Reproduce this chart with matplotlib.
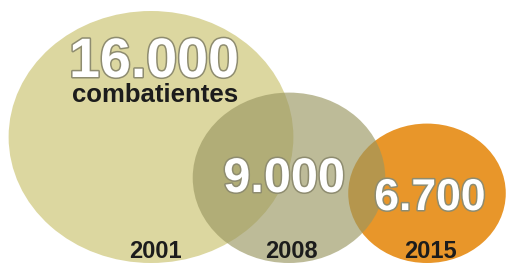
import matplotlib
matplotlib.use("Agg")
import matplotlib.pyplot as plt
from matplotlib.patches import Ellipse
import matplotlib.patheffects as pe

# ---- data ----
years = ["2001", "2008", "2015"]
fighters = [16000, 9000, 6700]
value_labels = ["16.000", "9.000", "6.700"]
unit_label = "combatientes"

# ---- style / layout ----
colors = ["#dcd7a0", "#9a9761", "#e8962a"]
alphas = [1.0, 0.65, 1.0]
zorders = [1, 3, 2]
W, H = 513, 265
base_y = 263          # common baseline of the bubbles (px, y downward)
x0, dx = 151, 138     # horizontal placement of the bubbles
r_max = 126           # radius of the largest bubble (vertical px)
power = 0.68          # size scale exponent
stretch = 1.13        # horizontal stretch of the original graphic
year_dx = [4, 2, 3]
num_pos = [(3, 77, 40), (-5, 192, 35), (3, 210, 32)]  # (dx, baseline, size)

fig = plt.figure(figsize=(W / 100, H / 100), dpi=100)
ax = fig.add_axes([0, 0, 1, 1])
ax.set_xlim(0, W)
ax.set_ylim(H, 0)
ax.axis("off")

font = ["Liberation Sans", "DejaVu Sans"]
outline = [pe.withStroke(linewidth=2.2, foreground="#8e8c70")]

vmax = max(fighters)
for i, (yr, v, lab) in enumerate(zip(years, fighters, value_labels)):
    r = r_max * (v / vmax) ** power
    cx = x0 + dx * i
    cy = base_y - r
    ax.add_patch(Ellipse((cx, cy), 2 * r * stretch, 2 * r, facecolor=colors[i],
                         alpha=alphas[i], edgecolor="none", zorder=zorders[i]))
    # year label
    ax.text(cx + year_dx[i], 257.5, yr, ha="center", va="baseline", fontsize=17,
            fontweight="bold", color="#1c1c1c", family=font, zorder=5)
    ndx, nby, nfs = num_pos[i]
    ax.text(cx + ndx, nby, lab, ha="center", va="baseline", fontsize=nfs,
            fontweight="bold", color="white", family=font, zorder=5,
            path_effects=outline)
    if i == 0:
        ax.text(cx + 4, 102, unit_label, ha="center", va="baseline", fontsize=18.5,
                fontweight="bold", color="#1c1c1c", family=font, zorder=5)

fig.savefig("out.png", dpi=100)
